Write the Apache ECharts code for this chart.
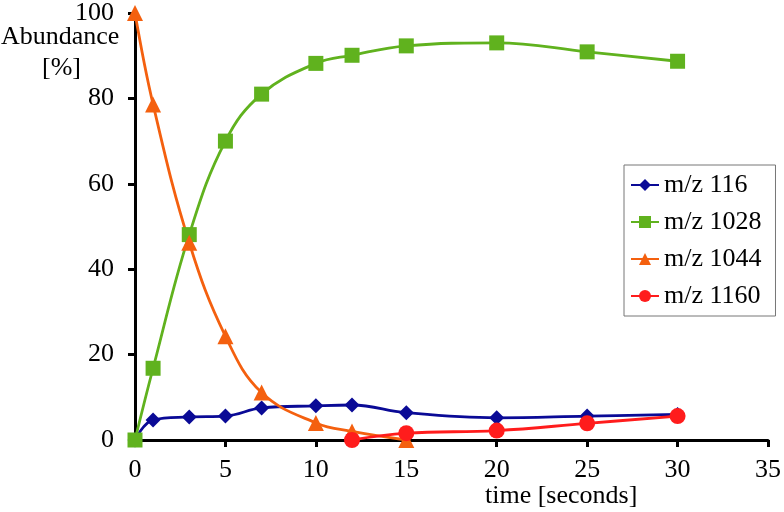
<!DOCTYPE html>
<html><head><meta charset="utf-8">
<script src="https://cdn.jsdelivr.net/npm/echarts@6/dist/echarts.min.js"></script>
<style>html,body{margin:0;padding:0;background:#fff}#c{width:784px;height:512px}</style>
</head><body><div id="c"></div>
<script>
const times = [0, 1, 3, 5, 7, 10, 12, 15, 20, 25, 30];
const mz116 = [0, 4.7, 5.4, 5.6, 7.5, 8.0, 8.2, 6.4, 5.2, 5.6, 6.0];
const mz1028 = [0, 16.8, 48.1, 70, 81, 88.2, 90.1, 92.3, 93.0, 90.9, 88.7];
const times1044 = [0, 1, 3, 5, 7, 10, 12, 15];
const mz1044 = [100, 78.6, 46.2, 24.3, 11.1, 4.0, 2.0, 0];
const times1160 = [12, 15, 20, 25, 30];
const mz1160 = [0, 1.6, 2.2, 3.9, 5.6];
const xTicks = [0, 5, 10, 15, 20, 25, 30, 35];
const yTicks = [0, 20, 40, 60, 80, 100];

const pairs = (xs, ys) => xs.map((x, i) => [x, ys[i]]);
const font = '"Liberation Serif", "Times New Roman", serif';
const chart = echarts.init(document.getElementById('c'), null, {renderer: 'canvas'});
function mk(name, xs, ys, color, symbol, size) {
  return {
    name, type: 'line', data: pairs(xs, ys), smooth: 0.4,
    symbol, symbolSize: size, showSymbol: true,
    lineStyle: {color, width: 2.8}, itemStyle: {color},
    emphasis: {disabled: true}, animation: false
  };
}
chart.setOption({
  animation: false,
  textStyle: {fontFamily: font},
  grid: {left: 135, right: 14, top: 12, bottom: 72, containLabel: false},
  xAxis: {
    type: 'value', min: xTicks[0], max: xTicks[xTicks.length - 1], interval: 5,
    axisLine: {onZero: false, lineStyle: {color: '#000', width: 3}},
    axisTick: {show: true, length: 7, lineStyle: {color: '#000', width: 3}},
    axisLabel: {margin: 17, fontSize: 26, color: '#000', fontFamily: font},
    splitLine: {show: false}
  },
  yAxis: {
    type: 'value', min: yTicks[0], max: yTicks[yTicks.length - 1], interval: 20,
    axisLine: {show: true, lineStyle: {color: '#000', width: 3}},
    axisTick: {show: true, length: 7, lineStyle: {color: '#000', width: 3}},
    axisLabel: {margin: 21, fontSize: 26, color: '#000', fontFamily: font},
    splitLine: {show: false}
  },
  legend: {
    orient: 'vertical', left: 624, top: 165,
    padding: [7, 14, 7, 6], itemGap: 11, itemWidth: 28, itemHeight: 15,
    borderColor: '#777', borderWidth: 1, backgroundColor: '#fff',
    textStyle: {fontSize: 26, color: '#000', fontFamily: font},
    data: ['m/z 116', 'm/z 1028', 'm/z 1044', 'm/z 1160']
  },
  graphic: [
    {type: 'text', left: 1, top: 24, style: {text: 'Abundance', font: '26px ' + font, fill: '#000'}},
    {type: 'text', left: 42, top: 55, style: {text: '[%]', font: '26px ' + font, fill: '#000'}},
    {type: 'text', left: 485, top: 483, style: {text: 'time [seconds]', font: '26px ' + font, fill: '#000'}}
  ],
  series: [
    mk('m/z 116', times, mz116, '#0A0A96', 'diamond', 15),
    mk('m/z 1028', times, mz1028, '#60B21E', 'rect', 15),
    mk('m/z 1044', times1044, mz1044, '#F4600F', 'triangle', 16),
    mk('m/z 1160', times1160, mz1160, '#FF1C1C', 'circle', 16)
  ]
});
</script></body></html>
